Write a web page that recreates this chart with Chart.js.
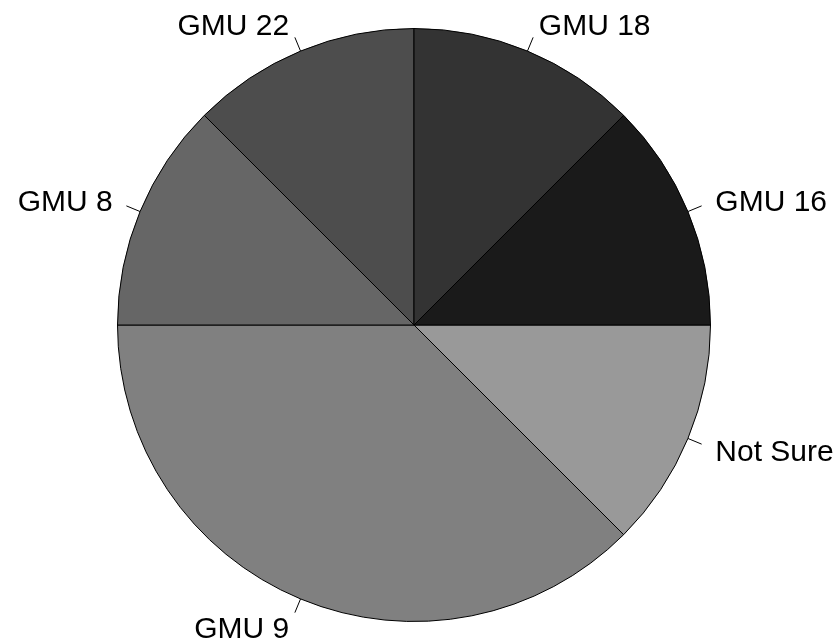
<!DOCTYPE html>
<html>
<head>
<meta charset="utf-8">
<script src="https://cdn.jsdelivr.net/npm/chart.js@4"></script>
<style>
  body { margin: 0; background: #fff; }
</style>
</head>
<body>
<canvas id="pieChart" width="838" height="643"></canvas>
<script>
// slices in R order (counter-clockwise from 3 o'clock)
const categories = ['GMU 16', 'GMU 18', 'GMU 22', 'GMU 8', 'GMU 9', 'Not Sure'];
const counts = [1, 1, 1, 1, 3, 1];
const greys = ['#1a1a1a', '#333333', '#4d4d4d', '#666666', '#808080', '#999999'];

// Chart.js goes clockwise, so feed it reversed
const labels = categories.slice().reverse();
const values = counts.slice().reverse();
const colors = greys.slice().reverse();

// R-style labels with short tick marks
const pieLabels = {
    id: 'pieLabels',
    afterDraw(chart) {
        const c = chart.ctx;
        const arcs = chart.getDatasetMeta(0).data;
        c.save();
        c.strokeStyle = '#000';
        c.lineWidth = 1;
        c.fillStyle = '#000';
        c.font = '30px "Liberation Sans", Arial, sans-serif';
        c.textBaseline = 'middle';
        arcs.forEach((arc, i) => {
            const p = arc.getProps(['x', 'y', 'startAngle', 'endAngle', 'outerRadius'], true);
            const mid = (p.startAngle + p.endAngle) / 2;
            const cos = Math.cos(mid), sin = Math.sin(mid);
            const r = p.outerRadius;
            c.beginPath();
            c.moveTo(p.x + cos * r, p.y + sin * r);
            c.lineTo(p.x + cos * r * 1.05, p.y + sin * r * 1.05);
            c.stroke();
            c.textAlign = cos >= 0 ? 'left' : 'right';
            c.fillText(chart.data.labels[i], p.x + cos * r * 1.1, p.y + sin * r * 1.1 + 3);
        });
        c.restore();
    }
};

const ctxPie = document.getElementById('pieChart').getContext('2d');
new Chart(ctxPie, {
    type: 'pie',
    data: {
        labels: labels,
        datasets: [{
            data: values,
            backgroundColor: colors,
            borderColor: '#000',
            borderWidth: 1
        }]
    },
    options: {
        responsive: false,
        animation: false,
        rotation: 90,
        layout: { padding: { top: 28, bottom: 21, left: 0, right: 10 } },
        plugins: {
            legend: { display: false },
            tooltip: { enabled: false }
        }
    },
    plugins: [pieLabels]
});
</script>
</body>
</html>
